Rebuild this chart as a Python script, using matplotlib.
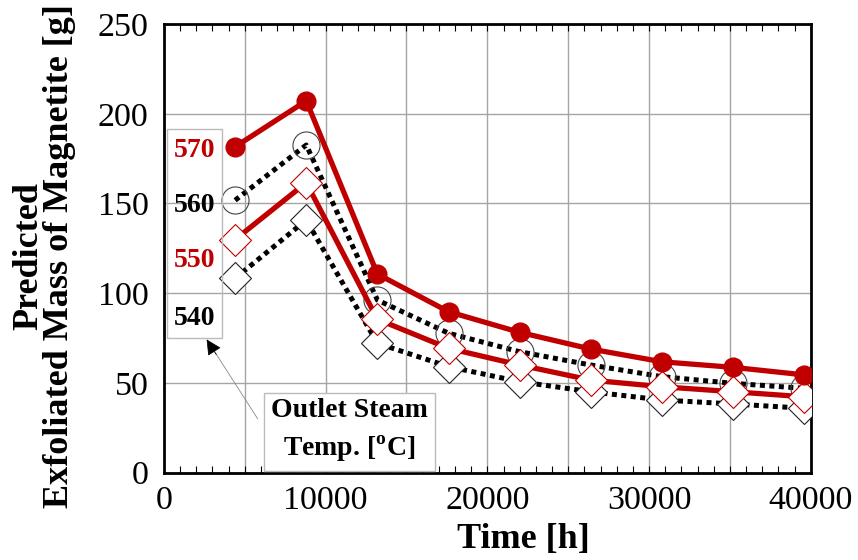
import numpy as np
import matplotlib.pyplot as plt
from matplotlib.ticker import MultipleLocator, FuncFormatter
import matplotlib.patches as patches

plt.rcParams['font.family'] = 'Liberation Serif'
plt.rcParams['mathtext.fontset'] = 'custom'
plt.rcParams['mathtext.rm'] = 'Liberation Serif:bold'
plt.rcParams['mathtext.bf'] = 'Liberation Serif:bold'

# data
time_h = [4400, 8800, 13200, 17600, 22000, 26400, 30800, 35200, 39600]
mass_570 = [181.6, 207.2, 110.7, 89.7, 78.2, 68.9, 61.8, 58.7, 54.5]
mass_560 = [151.8, 182.6, 96.2, 77.7, 67.4, 60.0, 53.5, 49.8, 47.0]
mass_550 = [129.9, 161.6, 85.5, 69.3, 60.0, 51.6, 47.9, 45.1, 42.3]
mass_540 = [108.3, 140.8, 72.1, 59.1, 50.7, 45.1, 40.5, 38.3, 35.9]
temp_labels = ['570', '560', '550', '540']

red = '#c00000'

fig = plt.figure(figsize=(8.58, 5.6), dpi=100)
ax = fig.add_axes([0.1911, 0.1559, 0.7538, 0.8012])

dot = (0, (1.0, 0.9))
ax.plot(time_h, mass_560, color='black', lw=3.6, ls=dot, marker='o', ms=19.5,
        mfc='none', mec='#444444', mew=0.8, zorder=3)
ax.plot(time_h, mass_540, color='black', lw=3.6, ls=dot, marker='D', ms=16,
        mfc='white', mec='#222222', mew=0.8, zorder=3)
ax.plot(time_h, mass_550, color=red, lw=3.8, marker='D', ms=16,
        mfc='white', mec=red, mew=0.8, zorder=4)
ax.plot(time_h, mass_570, color=red, lw=3.8, marker='o', ms=13.5,
        mfc=red, mec=red, zorder=5)

ax.set_xlim(0, 40000)
ax.set_ylim(0, 250)
ax.xaxis.set_major_locator(MultipleLocator(5000))
ax.xaxis.set_minor_locator(MultipleLocator(1000))
ax.xaxis.set_major_formatter(FuncFormatter(lambda v, p: '%d' % v if v % 10000 == 0 else ''))
ax.yaxis.set_major_locator(MultipleLocator(50))
ax.grid(True, color='#a5a5a5', lw=1.0)
ax.set_axisbelow(True)
ax.tick_params(axis='x', which='both', direction='in', top=True, length=5,
               width=0.8, labelsize=24.5, pad=9)
ax.tick_params(axis='y', which='both', direction='in', length=0, labelsize=24.5, pad=11)
for s in ax.spines.values():
    s.set_linewidth(2)

ax.set_xlabel('Time [h]', fontsize=26, fontweight='bold')
ax.xaxis.set_label_coords(0.556, -0.112)
ax.set_ylabel('Predicted\nExfoliated Mass of Magnetite [g]', fontsize=26,
              fontweight='bold', linespacing=0.92)
ax.yaxis.set_label_coords(-0.136, 0.482)

# temperature labels box
box = patches.Rectangle((0.005, 0.3), 0.085, 0.465, transform=ax.transAxes,
                        fill=False, edgecolor='#bbbbbb', lw=1, zorder=6)
ax.add_patch(box)
label_y = [0.718, 0.596, 0.472, 0.344]
for t, yy, c in zip(temp_labels, label_y, [red, 'black', red, 'black']):
    ax.text(0.048, yy, t, transform=ax.transAxes, color=c, fontsize=20,
            fontweight='bold', ha='center', va='center', zorder=7)

ax.text(0.287, 0.093, 'Outlet Steam\nTemp. [$^\\mathrm{o}$C]', transform=ax.transAxes,
        fontsize=20, fontweight='bold', ha='center', va='center', linespacing=1.45,
        bbox=dict(boxstyle='square,pad=0.25', facecolor='white',
                  edgecolor='#bbbbbb', lw=1), zorder=7)

# arrow: thin grey shaft with black head
ax.annotate('', xy=(0.068, 0.293), xytext=(0.145, 0.120), xycoords='axes fraction',
            arrowprops=dict(arrowstyle='-', color='#888888', lw=0.6,
                            shrinkA=0, shrinkB=0), zorder=7)
ax.annotate('', xy=(0.066, 0.297), xytext=(0.081, 0.263), xycoords='axes fraction',
            arrowprops=dict(arrowstyle='-|>', color='black', lw=0.5,
                            mutation_scale=24, shrinkA=0, shrinkB=0), zorder=7)

fig.savefig('out.png', dpi=100)
